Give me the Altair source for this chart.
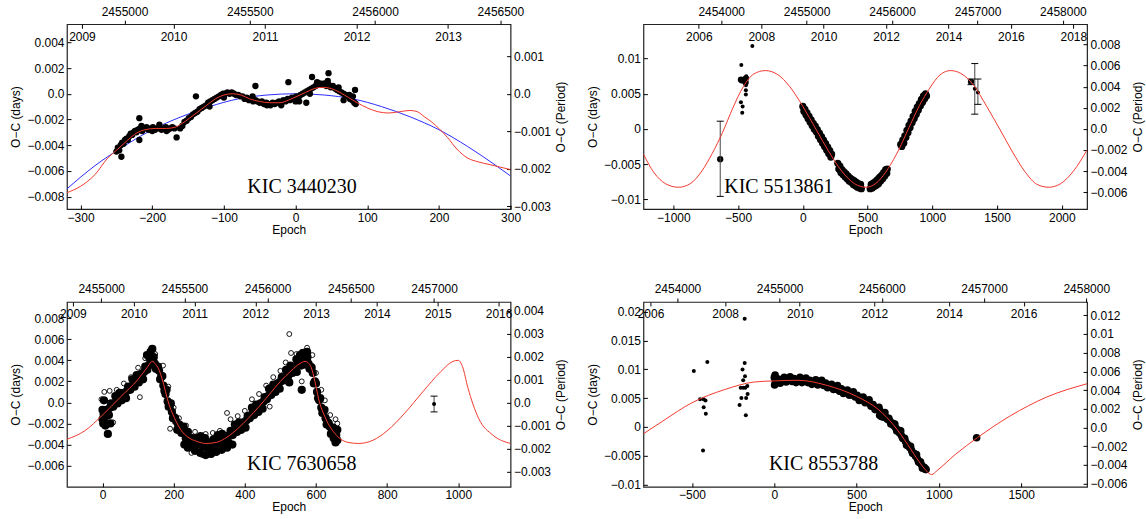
import altair as alt
import pandas as pd

W, H = 444, 185
SANS = "Liberation Sans"
SERIF = "Liberation Serif"
RED = "#f23a30"
BLUE = "#2b2bff"

# ======================= Panel 1 : KIC 3440230 =======================
P1_X_TICKS = [-300, -200, -100, 0, 100, 200, 300]
P1_Y_TICKS = [0.004, 0.002, 0, -0.002, -0.004, -0.006, -0.008]
P1_R_TICKS = [0.001, 0, -0.001, -0.002, -0.003]
P1_JD_TICKS = [2455000, 2455500, 2456000, 2456500]
P1_YR_TICKS = [2009, 2010, 2011, 2012, 2013]
P1_X = [-319, 300]
P1_Y = [-0.00897, 0.00541]
P1_R = [-0.003072, 0.001853]
P1_JD = [2454770.3, 2456540.6]
P1_YR = [2008.836, 2013.683]

P1_DOTS = [(-250, -0.0045), (-248, -0.0042), (-246, -0.0044), (-244, -0.0040), (-242, -0.0038),
           (-240, -0.0039), (-238, -0.0036), (-236, -0.0035), (-234, -0.0036), (-232, -0.0033),
           (-230, -0.0031), (-228, -0.0032), (-226, -0.0030), (-224, -0.0029), (-222, -0.0030),
           (-220, -0.0028), (-217, -0.0027), (-214, -0.0029), (-211, -0.0027), (-208, -0.0026),
           (-205, -0.0028), (-202, -0.0027), (-199, -0.0026), (-196, -0.0028), (-193, -0.0027),
           (-190, -0.0026), (-187, -0.0028), (-184, -0.0027), (-181, -0.0026), (-178, -0.0028),
           (-175, -0.0027), (-172, -0.0026), (-169, -0.0027), (-158, -0.0025), (-155, -0.0022),
           (-152, -0.0021), (-149, -0.0019), (-146, -0.0018), (-143, -0.0016), (-140, -0.0015),
           (-137, -0.0014), (-134, -0.0012), (-131, -0.0011), (-128, -0.0010), (-125, -0.0009),
           (-122, -0.0007), (-119, -0.0006), (-116, -0.0005), (-113, -0.0004), (-110, -0.0003),
           (-107, -0.0002), (-104, -0.0001), (-101, 0.0000), (-98, 0.0000), (-95, 0.0001),
           (-92, 0.0000), (-89, 0.0001), (-86, 0.0000), (-83, -0.0001), (-80, -0.0001),
           (-77, -0.0002), (-74, -0.0002), (-71, -0.0004), (-68, -0.0003), (-65, -0.0005),
           (-62, -0.0004), (-59, -0.0006), (-56, -0.0005), (-53, -0.0006), (-50, -0.0007),
           (-47, -0.0006), (-44, -0.0008), (-41, -0.0007), (-38, -0.0008), (-35, -0.0009),
           (-32, -0.0007), (-29, -0.0008), (-26, -0.0007), (-23, -0.0006), (-20, -0.0007),
           (-17, -0.0005), (-14, -0.0006), (-11, -0.0004), (-8, -0.0005), (-5, -0.0003),
           (-2, -0.0004), (1, -0.0002), (4, -0.0003), (7, -0.0001), (10, 0.0000),
           (13, 0.0001), (16, 0.0002), (19, 0.0003), (22, 0.0004), (25, 0.0005),
           (28, 0.0006), (31, 0.0007), (34, 0.0008), (37, 0.0007), (40, 0.0008),
           (43, 0.0006), (46, 0.0007), (49, 0.0005), (52, 0.0006), (55, 0.0004),
           (58, 0.0003), (61, 0.0002), (64, 0.0001), (67, 0.0000), (70, -0.0001),
           (73, -0.0002), (76, -0.0004), (79, -0.0005), (82, -0.0007), (84, -0.0008),
           (-215, -0.0025), (-200, -0.0029), (-190, -0.0024), (-180, -0.0029), (-120, -0.0010),
           (-100, -0.0003), (-60, -0.0002), (-40, -0.0009), (-20, -0.0009), (0, -0.0006),
           (20, 0.0000), (30, 0.0009), (45, 0.0010), (60, 0.0005), (75, -0.0001), (80, -0.0002),
           (-243, -0.0049), (-218, -0.0036), (-218, -0.0019), (-166, -0.0034), (-161, -0.0027),
           (-139, -0.0002), (-56, 0.0006), (-10, 0.0009), (15, -0.0007), (5, -0.0006),
           (23, 0.0013), (46, 0.0016), (67, -0.0005), (83, 0.0003)]

P1_RED = [(-319, -0.0077), (-300, -0.0072), (-280, -0.0063), (-262, -0.0050), (-250, -0.0044),
          (-240, -0.0039), (-230, -0.0034), (-220, -0.0030), (-210, -0.0028), (-195, -0.0027),
          (-180, -0.0027), (-168, -0.0026), (-158, -0.0023), (-148, -0.0019), (-136, -0.0014),
          (-124, -0.0009), (-112, -0.0004), (-100, -0.0001), (-88, 0.0000), (-76, -0.0001),
          (-64, -0.0004), (-50, -0.0006), (-36, -0.0007), (-22, -0.0007), (-10, -0.0005),
          (2, -0.0002), (14, 0.0001), (26, 0.0004), (38, 0.0005), (50, 0.0004), (62, 0.0001),
          (74, -0.0003), (86, -0.0007), (100, -0.0011), (115, -0.0014), (130, -0.0015),
          (145, -0.0014), (160, -0.0013), (170, -0.0014), (180, -0.0018), (190, -0.0022),
          (200, -0.0027), (212, -0.0034), (225, -0.0043), (240, -0.0050), (255, -0.0053),
          (270, -0.0055), (285, -0.0057), (300, -0.0059)]

P1_BLUE = [(-319, -0.0074), (-280, -0.0056), (-240, -0.0041), (-200, -0.0028), (-160, -0.0018),
           (-120, -0.0010), (-80, -0.0004), (-40, -0.0001), (0, 0.0000), (40, -0.0001),
           (80, -0.0004), (120, -0.0010), (160, -0.0018), (200, -0.0028), (240, -0.0041),
           (280, -0.0056), (300, -0.0064)]

P1_NAME = [(9, -0.00728, "KIC 3440230")]

# ======================= Panel 2 : KIC 5513861 =======================
P2_X_TICKS = [-1000, -500, 0, 500, 1000, 1500, 2000]
P2_Y_TICKS = [0.01, 0.005, 0, -0.005, -0.01]
P2_R_TICKS = [0.008, 0.006, 0.004, 0.002, 0, -0.002, -0.004, -0.006]
P2_JD_TICKS = [2454000, 2455000, 2456000, 2457000, 2458000]
P2_YR_TICKS = [2006, 2008, 2010, 2012, 2014, 2016, 2018]
P2_X = [-1231, 2195]
P2_Y = [-0.0114, 0.0149]
P2_R = [-0.0076, 0.00993]
P2_JD = [2453089.8, 2458282.5]
P2_YR = [2004.224, 2018.44]

P2_DOTS = [(0, 0.0032), (8, 0.0025), (16, 0.0028), (24, 0.0020), (32, 0.0023), (40, 0.0015),
           (48, 0.0018), (56, 0.0010), (64, 0.0013), (72, 0.0005), (80, 0.0008), (88, 0.0000),
           (96, 0.0004), (104, -0.0004), (112, -0.0001), (120, -0.0010), (128, -0.0006),
           (136, -0.0015), (144, -0.0011), (152, -0.0020), (160, -0.0016), (168, -0.0025),
           (176, -0.0021), (184, -0.0030), (192, -0.0026), (200, -0.0035), (208, -0.0031),
           (216, -0.0040), (222, -0.0036),
           (270, -0.0049), (278, -0.0057), (286, -0.0053), (294, -0.0062), (302, -0.0058),
           (310, -0.0065), (318, -0.0061), (326, -0.0068), (334, -0.0064), (342, -0.0071),
           (350, -0.0067), (358, -0.0074), (366, -0.0070), (374, -0.0076), (382, -0.0072),
           (390, -0.0079), (398, -0.0074), (406, -0.0081), (414, -0.0076), (422, -0.0083),
           (430, -0.0078), (438, -0.0084), (446, -0.0079), (452, -0.0085),
           (520, -0.0085), (528, -0.0079), (536, -0.0084), (544, -0.0077), (552, -0.0082),
           (560, -0.0075), (568, -0.0080), (576, -0.0072), (584, -0.0078), (592, -0.0069),
           (600, -0.0074), (608, -0.0066), (616, -0.0071), (624, -0.0062), (632, -0.0067),
           (640, -0.0058), (648, -0.0063), (652, -0.0057),
           (756, -0.0022), (764, -0.0025), (772, -0.0016), (780, -0.0020), (788, -0.0010),
           (796, -0.0012), (804, -0.0002), (812, -0.0005), (820, 0.0005), (828, 0.0002),
           (836, 0.0011), (844, 0.0009), (852, 0.0018), (860, 0.0015), (868, 0.0025),
           (876, 0.0021), (884, 0.0031), (892, 0.0027), (900, 0.0036), (908, 0.0033),
           (916, 0.0042), (924, 0.0038), (932, 0.0047), (940, 0.0043), (948, 0.0050),
           (955, 0.0047)]

P2_BIG = [(-478, 0.0070), (-468, 0.0069), (-446, 0.0070), (-440, 0.0072), (-442, 0.0066),
          (1299, 0.0067), (-638, -0.0043)]

P2_SMALL = [(-475, 0.0091), (-478, 0.0038), (-465, 0.0032), (-468, 0.0023), (-440, 0.0062),
            (-440, 0.0055), (-440, 0.0049), (-437, 0.0075), (-390, 0.0118),
            (1328, 0.0057), (1352, 0.0052)]

P2_ERR = [(-638, -0.0096, 0.0011), (1299, 0.0063, 0.0071), (1328, 0.0021, 0.0093),
          (1352, 0.0035, 0.0071)]

P2_RED = [(-1231, -0.0036), (-1150, -0.0062), (-1060, -0.0078), (-960, -0.0083), (-870, -0.0078),
          (-780, -0.0060), (-700, -0.0035), (-620, -0.0005), (-540, 0.0030), (-460, 0.0060),
          (-380, 0.0078), (-290, 0.0083), (-200, 0.0078), (-100, 0.0060), (0, 0.0032),
          (100, 0.0000), (200, -0.0032), (300, -0.0060), (400, -0.0078), (490, -0.0083),
          (580, -0.0075), (660, -0.0056), (740, -0.0030), (820, 0.0002), (900, 0.0033),
          (980, 0.0058), (1060, 0.0077), (1140, 0.0083), (1220, 0.0079), (1320, 0.0062),
          (1420, 0.0032), (1520, 0.0000), (1620, -0.0033), (1720, -0.0062), (1810, -0.0079),
          (1900, -0.0083), (1990, -0.0078), (2090, -0.0060), (2195, -0.0030)]

P2_NAME = [(-185, -0.00828, "KIC 5513861")]

# ======================= Panel 3 : KIC 7630658 =======================
P3_X_TICKS = [0, 200, 400, 600, 800, 1000]
P3_Y_TICKS = [0.008, 0.006, 0.004, 0.002, 0, -0.002, -0.004, -0.006]
P3_R_TICKS = [0.004, 0.003, 0.002, 0.001, 0, -0.001, -0.002, -0.003]
P3_JD_TICKS = [2455000, 2455500, 2456000, 2456500, 2457000]
P3_YR_TICKS = [2009, 2010, 2011, 2012, 2013, 2014, 2015, 2016]
P3_X = [-100, 1147]
P3_Y = [-0.00802, 0.00955]
P3_R = [-0.00367, 0.00438]
P3_JD = [2454794.2, 2457459.5]
P3_YR = [2008.9015, 2016.197]

P3_DOTS = [(0, -0.0007), (6, -0.0014), (12, -0.0007), (18, -0.0012), (24, -0.0001), (30, -0.0004),
           (36, 0.0006), (42, -0.0001), (48, 0.0009), (54, 0.0002), (60, 0.0009), (66, 0.0004),
           (72, 0.0015), (78, 0.0012), (84, 0.0022), (90, 0.0015), (96, 0.0026), (102, 0.0019),
           (108, 0.0027), (114, 0.0022), (120, 0.0034), (126, 0.0031), (132, 0.0042), (138, 0.0036),
           (144, 0.0043), (150, 0.0032), (156, 0.0034), (162, 0.0022), (168, 0.0025), (174, 0.0011),
           (180, 0.0012), (186, -0.0004), (192, -0.0001), (198, -0.0015), (204, -0.0015),
           (210, -0.0026), (216, -0.0021), (222, -0.0029), (228, -0.0023), (234, -0.0034),
           (240, -0.0028), (246, -0.0038), (252, -0.0034), (258, -0.0042), (264, -0.0034),
           (270, -0.0040), (276, -0.0032), (282, -0.0042), (288, -0.0034), (294, -0.0043),
           (300, -0.0038), (306, -0.0045), (312, -0.0035), (318, -0.0040), (324, -0.0031),
           (330, -0.0039), (336, -0.0030), (342, -0.0038), (348, -0.0032), (354, -0.0038),
           (360, -0.0027), (366, -0.0031), (372, -0.0021), (378, -0.0028), (384, -0.0019),
           (390, -0.0026), (396, -0.0019), (402, -0.0024), (408, -0.0013), (414, -0.0015),
           (420, -0.0005), (426, -0.0012), (432, -0.0002), (438, -0.0009), (444, -0.0001),
           (450, -0.0006), (456, 0.0005), (462, 0.0003), (468, 0.0013), (474, 0.0007),
           (480, 0.0017), (486, 0.0010), (492, 0.0018), (498, 0.0013), (504, 0.0024),
           (510, 0.0021), (516, 0.0031), (522, 0.0025), (528, 0.0035), (534, 0.0028),
           (540, 0.0034), (546, 0.0029), (552, 0.0039), (558, 0.0035), (564, 0.0044),
           (570, 0.0036), (576, 0.0043), (582, 0.0032), (588, 0.0033), (594, 0.0018),
           (600, 0.0018), (606, 0.0004), (612, 0.0004), (618, -0.0010), (624, -0.0007),
           (630, -0.0021), (636, -0.0020), (642, -0.0030), (648, -0.0024), (654, -0.0032),
           (660, -0.0026),
           (15, -0.0030), (22, -0.0020), (560, 0.0012), (525, 0.0019),
           (260, -0.0046), (275, -0.0048), (290, -0.0050), (305, -0.0049), (320, -0.0047),
           (335, -0.0045), (350, -0.0043), (240, -0.0043), (230, -0.0040), (365, -0.0040),
           (125, 0.0045), (135, 0.0048), (140, 0.0051), (555, 0.0045), (565, 0.0047),
           (575, 0.0048), (545, 0.0041), (2, -0.0020), (8, -0.0022), (4, 0.0002), (0, -0.0016),
           (655, -0.0038), (660, -0.0036), (650, -0.0034)]

P3_CORE = [(3, -0.0011), (9, -0.0009), (15, -0.0007), (21, -0.0005), (27, -0.0003), (33, -0.0001),
           (39, 0.0001), (45, 0.0003), (51, 0.0005), (57, 0.0007), (63, 0.0009), (69, 0.0011),
           (75, 0.0013), (81, 0.0015), (87, 0.0017), (93, 0.0019), (99, 0.0022), (105, 0.0024),
           (111, 0.0027), (117, 0.0029), (123, 0.0032), (129, 0.0035), (135, 0.0038), (141, 0.0039),
           (147, 0.0037), (153, 0.0034), (159, 0.0030), (165, 0.0025), (171, 0.0016), (177, 0.0008),
           (183, 0.0001), (189, -0.0004), (195, -0.0009), (201, -0.0014), (207, -0.0018),
           (213, -0.0022), (219, -0.0025), (225, -0.0028), (231, -0.0030), (237, -0.0032),
           (243, -0.0034), (249, -0.0035), (255, -0.0036), (261, -0.0037), (267, -0.0038),
           (273, -0.0038), (279, -0.0039), (285, -0.0039), (291, -0.0039), (297, -0.0039),
           (303, -0.0039), (309, -0.0039), (315, -0.0038), (321, -0.0038), (327, -0.0037),
           (333, -0.0036), (339, -0.0035), (345, -0.0034), (351, -0.0033), (357, -0.0031),
           (363, -0.0030), (369, -0.0028), (375, -0.0027), (381, -0.0025), (387, -0.0023),
           (393, -0.0021), (399, -0.0019), (405, -0.0017), (411, -0.0015), (417, -0.0012),
           (423, -0.0010), (429, -0.0008), (435, -0.0006), (441, -0.0004), (447, -0.0001),
           (453, 0.0001), (459, 0.0004), (465, 0.0006), (471, 0.0008), (477, 0.0011),
           (483, 0.0013), (489, 0.0016), (495, 0.0018), (501, 0.0020), (507, 0.0022),
           (513, 0.0024), (519, 0.0026), (525, 0.0028), (531, 0.0030), (537, 0.0033),
           (543, 0.0034), (549, 0.0035), (555, 0.0037), (561, 0.0038), (567, 0.0039),
           (573, 0.0039), (579, 0.0037), (585, 0.0034), (591, 0.0028), (597, 0.0020),
           (603, 0.0010), (609, 0.0002), (615, -0.0005), (621, -0.0009), (627, -0.0015),
           (633, -0.0019), (639, -0.0023), (645, -0.0026), (651, -0.0029), (657, -0.0031)]

P3_SMALL = [(932, -0.00016)]

P3_OPEN = [(-3, 0.0003), (5, 0.0010), (10, -0.0018), (20, 0.0011), (40, 0.0012), (60, 0.0018),
           (80, 0.0024), (100, 0.0033), (120, 0.0042), (135, 0.0050), (148, 0.0046), (170, 0.0035),
           (185, 0.0015), (200, -0.0005), (215, -0.0015), (235, -0.0022), (260, -0.0028),
           (290, -0.0030), (310, -0.0029), (330, -0.0027), (350, -0.0010), (360, -0.0016),
           (380, -0.0013), (400, -0.0008), (420, 0.0003), (440, 0.0008), (460, 0.0016),
           (480, 0.0024), (500, 0.0030), (515, 0.0038), (525, 0.0065), (530, 0.0047),
           (545, 0.0046), (560, 0.0048), (575, 0.0052), (590, 0.0045), (600, 0.0028),
           (615, 0.0012), (625, 0.0002), (640, -0.0012), (655, -0.0016), (660, -0.0020),
           (250, -0.0048), (280, -0.0050), (320, -0.0048), (190, -0.0025), (105, 0.0005),
           (30, -0.0019), (470, -0.0004), (560, 0.0020)]

P3_ERR = [(932, -0.0009, 0.0006)]

P3_RED = [(-100, -0.0035), (-50, -0.0027), (0, -0.0012), (50, 0.0005), (100, 0.0022),
          (125, 0.0033), (140, 0.0039), (150, 0.0036), (160, 0.0030), (167, 0.0023),
          (187, -0.0002), (207, -0.0018), (220, -0.0026), (240, -0.0033), (265, -0.0037),
          (290, -0.0039), (320, -0.0038), (350, -0.0033), (380, -0.0025), (410, -0.0015),
          (440, -0.0004), (470, 0.0008), (500, 0.0020), (530, 0.0030), (555, 0.0037),
          (570, 0.0039), (580, 0.0037), (587, 0.0033), (597, 0.0020), (607, 0.0004),
          (627, -0.0015), (657, -0.0031), (690, -0.0038), (720, -0.0039), (760, -0.0036),
          (800, -0.0027), (850, -0.0010), (900, 0.0010), (950, 0.0029), (985, 0.0039),
          (1000, 0.0040), (1012, 0.0034), (1027, 0.0014), (1057, -0.0015), (1097, -0.0031),
          (1147, -0.0039)]

P3_NAME = [(560, -0.0059, "KIC 7630658")]

# ======================= Panel 4 : KIC 8553788 =======================
P4_X_TICKS = [-500, 0, 500, 1000, 1500]
P4_Y_TICKS = [0.02, 0.015, 0.01, 0.005, 0, -0.005, -0.01]
P4_R_TICKS = [0.012, 0.01, 0.008, 0.006, 0.004, 0.002, 0, -0.002, -0.004, -0.006]
P4_JD_TICKS = [2454000, 2455000, 2456000, 2457000, 2458000]
P4_YR_TICKS = [2006, 2008, 2010, 2012, 2014, 2016]
P4_X = [-795, 1900]
P4_Y = [-0.01043, 0.02173]
P4_R = [-0.00633, 0.01342]
P4_JD = [2453667, 2458008]
P4_YR = [2005.81, 2017.70]

P4_DOTS = [(0, 0.0086), (12, 0.0078), (24, 0.0083), (36, 0.0076), (48, 0.0082), (60, 0.0086),
           (72, 0.0078), (84, 0.0083), (96, 0.0087), (108, 0.0079), (120, 0.0084), (132, 0.0077),
           (144, 0.0082), (156, 0.0086), (168, 0.0077), (180, 0.0082), (192, 0.0085), (204, 0.0077),
           (216, 0.0081), (228, 0.0074), (240, 0.0078), (252, 0.0082), (264, 0.0073), (276, 0.0077),
           (288, 0.0081), (300, 0.0072), (312, 0.0076), (324, 0.0068), (336, 0.0071), (348, 0.0074),
           (360, 0.0065), (372, 0.0069), (384, 0.0072), (396, 0.0062), (408, 0.0066), (420, 0.0058),
           (432, 0.0062), (444, 0.0064), (456, 0.0055), (468, 0.0059), (480, 0.0061), (492, 0.0052),
           (504, 0.0055), (516, 0.0046), (528, 0.0050), (540, 0.0052), (552, 0.0042), (564, 0.0045),
           (576, 0.0047), (588, 0.0036), (600, 0.0039), (612, 0.0030), (624, 0.0033), (636, 0.0034),
           (648, 0.0023), (660, 0.0024), (672, 0.0025), (684, 0.0014), (696, 0.0015), (708, 0.0005),
           (720, 0.0006), (732, 0.0005), (744, -0.0007), (756, -0.0006), (768, -0.0007),
           (780, -0.0020), (792, -0.0020), (804, -0.0032), (816, -0.0033), (828, -0.0034),
           (840, -0.0046), (852, -0.0047), (864, -0.0048), (876, -0.0061), (888, -0.0061),
           (900, -0.0072), (912, -0.0071), (922, -0.0074), (2, 0.0073), (5, 0.0090),
           (1229, -0.0019), (640, 0.0020), (650, 0.0018), (655, 0.0022), (660, 0.0017),
           (645, 0.0024)]

P4_CORE = [(6, 0.0080), (18, 0.0080), (30, 0.0080), (42, 0.0080), (54, 0.0081), (66, 0.0081),
           (78, 0.0081), (90, 0.0081), (102, 0.0081), (114, 0.0081), (126, 0.0081), (138, 0.0081),
           (150, 0.0081), (162, 0.0080), (174, 0.0080), (186, 0.0080), (198, 0.0079), (210, 0.0079),
           (222, 0.0078), (234, 0.0077), (246, 0.0077), (258, 0.0076), (270, 0.0075), (282, 0.0075),
           (294, 0.0074), (306, 0.0073), (318, 0.0072), (330, 0.0071), (342, 0.0070), (354, 0.0068),
           (366, 0.0067), (378, 0.0066), (390, 0.0065), (402, 0.0064), (414, 0.0062), (426, 0.0061),
           (438, 0.0060), (450, 0.0059), (462, 0.0057), (474, 0.0056), (486, 0.0054), (498, 0.0053),
           (510, 0.0051), (522, 0.0049), (534, 0.0048), (546, 0.0046), (558, 0.0044), (570, 0.0042),
           (582, 0.0040), (594, 0.0037), (606, 0.0035), (618, 0.0033), (630, 0.0031), (642, 0.0028),
           (654, 0.0025), (666, 0.0021), (678, 0.0017), (690, 0.0013), (702, 0.0010), (714, 0.0006),
           (726, 0.0002), (738, -0.0002), (750, -0.0006), (762, -0.0011), (774, -0.0016),
           (786, -0.0021), (798, -0.0026), (810, -0.0031), (822, -0.0036), (834, -0.0041),
           (846, -0.0046), (858, -0.0051), (870, -0.0056), (882, -0.0062), (894, -0.0066),
           (906, -0.0070), (918, -0.0074)]

P4_SMALL = [(-489, 0.0097), (-451, 0.0048), (-429, 0.0048), (-429, 0.0034), (-416, 0.0023),
            (-407, 0.0113), (-433, -0.0041), (-418, 0.0046), (-211, 0.0038), (-200, 0.0050),
            (-193, 0.0100), (-189, 0.0081), (-180, 0.0188), (-180, 0.0111), (-178, 0.0088),
            (-176, 0.0068), (-173, 0.0020), (-171, 0.0050), (-162, 0.0057), (-164, 0.0071),
            (-189, 0.0068), (-204, 0.0068)]

P4_RED = [(-795, -0.0012), (-678, 0.0010), (-500, 0.0042), (-300, 0.0065), (-122, 0.0078),
          (0, 0.0080), (144, 0.0081), (322, 0.0072), (500, 0.0053), (633, 0.0030),
          (722, 0.0004), (811, -0.0031), (878, -0.0060), (922, -0.0076), (956, -0.0083),
          (989, -0.0076), (1100, -0.0048), (1233, -0.0019), (1433, 0.0019), (1656, 0.0052),
          (1900, 0.0075)]

P4_NAME = [(299, -0.00655, "KIC 8553788")]


# ======================= helpers =======================
def lab_expr(kind):
    m = "'\u2212'"
    if kind == "f3z":
        return "datum.value == 0 ? '0.0' : replace(format(datum.value, '.3f'), '-', " + m + ")"
    if kind == "gz":
        return "datum.value == 0 ? '0.0' : replace(format(datum.value, '~g'), '-', " + m + ")"
    if kind == "g":
        return "replace(format(datum.value, '~g'), '-', " + m + ")"
    return "replace(format(datum.value, 'd'), '-', " + m + ")"


def sc(dom):
    return alt.Scale(domain=dom, nice=False, zero=False)


def panel(P):
    xs, ys = sc(P["x"]), sc(P["y"])
    xa = alt.Axis(orient="bottom", values=P["xt"], offset=-4, tickSize=4, labelPadding=3,
                  title="Epoch", titlePadding=1, labelExpr=lab_expr("d"))
    ya = alt.Axis(orient="left", values=P["yt"], offset=-4, tickSize=4, labelPadding=3,
                  title="O\u2212C (days)", titlePadding=4, labelExpr=lab_expr(P["yk"]))
    X = alt.X("e:Q", scale=xs, axis=None)
    Y = alt.Y("v:Q", scale=ys, axis=None)

    layers = []
    frame = pd.DataFrame({"e": [P["xt"][0]], "v": [P["yt"][0]]})
    layers.append(alt.Chart(frame).mark_point(opacity=0).encode(
        x=alt.X("e:Q", scale=xs, axis=xa), y=alt.Y("v:Q", scale=ys, axis=ya)))

    for curve in P.get("blue", []):
        df = pd.DataFrame(curve, columns=["e", "v"])
        layers.append(alt.Chart(df).mark_line(color=BLUE, strokeWidth=1, clip=True,
                                              interpolate="monotone").encode(x=X, y=Y))
    if "open" in P:
        df = pd.DataFrame(P["open"], columns=["e", "v"])
        layers.append(alt.Chart(df).mark_point(shape="circle", filled=False, color="black",
                                               size=24, strokeWidth=0.9, opacity=1)
                      .encode(x=X, y=Y))
    for key in ("dots", "core"):
        if key in P:
            df = pd.DataFrame(P[key], columns=["e", "v"])
            layers.append(alt.Chart(df).mark_circle(color="black", size=P.get("dsize", 30),
                                                    opacity=1).encode(x=X, y=Y))
    if "big" in P:
        df = pd.DataFrame(P["big"], columns=["e", "v"])
        layers.append(alt.Chart(df).mark_circle(color="black", size=40, opacity=1).encode(x=X, y=Y))
    if "err" in P:
        df = pd.DataFrame(P["err"], columns=["e", "lo", "hi"])
        layers.append(alt.Chart(df).mark_rule(color="#444444", strokeWidth=1)
                      .encode(x=X, y=alt.Y("lo:Q", scale=ys, axis=None), y2="hi:Q"))
        caps = pd.DataFrame([(r[0], r[1]) for r in P["err"]] + [(r[0], r[2]) for r in P["err"]],
                            columns=["e", "v"])
        layers.append(alt.Chart(caps).mark_tick(orient="horizontal", color="black", size=7,
                                                thickness=1, opacity=1).encode(x=X, y=Y))
    if "small" in P:
        df = pd.DataFrame(P["small"], columns=["e", "v"])
        layers.append(alt.Chart(df).mark_circle(color="black", size=16, opacity=1).encode(x=X, y=Y))
    for curve in P.get("red", []):
        df = pd.DataFrame(curve, columns=["e", "v"])
        layers.append(alt.Chart(df).mark_line(color=RED, strokeWidth=1, clip=True,
                                              interpolate="monotone").encode(x=X, y=Y))
    dfn = pd.DataFrame(P["name"], columns=["e", "v", "t"])
    layers.append(alt.Chart(dfn).mark_text(font=SERIF, fontSize=20, color="black", align="center",
                                           baseline="middle").encode(x=X, y=Y, text="t:N"))

    jd_df = pd.DataFrame({"jd": P["jdt"], "v": [P["yt"][0]] * len(P["jdt"])})
    layers.append(alt.Chart(jd_df).mark_point(opacity=0).encode(
        x=alt.X("jd:Q", scale=sc(P["jd"]),
                axis=alt.Axis(orient="top", values=P["jdt"], tickSize=4, labelPadding=2,
                              title=None, labelExpr=lab_expr("d"))),
        y=Y))
    yr_df = pd.DataFrame({"yr": P["yrt"], "v": [P["yt"][0]] * len(P["yrt"])})
    layers.append(alt.Chart(yr_df).mark_point(opacity=0).encode(
        x=alt.X("yr:Q", scale=sc(P["yr"]),
                axis=alt.Axis(orient="bottom", values=P["yrt"], offset=-H, tickSize=4,
                              labelPadding=3, title=None, labelExpr=lab_expr("d"))),
        y=Y))
    rt_df = pd.DataFrame({"e": [P["xt"][0]] * len(P["rt"]), "p": P["rt"]})
    layers.append(alt.Chart(rt_df).mark_point(opacity=0).encode(
        x=X,
        y=alt.Y("p:Q", scale=sc(P["r"]),
                axis=alt.Axis(orient="right", values=P["rt"], offset=-4, tickSize=4,
                              labelPadding=3, title="O\u2212C (Period)", titlePadding=5,
                              titleAngle=270, titleBaseline="top", labelExpr=lab_expr(P["rk"])))))
    return alt.layer(*layers).resolve_scale(x="independent", y="independent") \
        .properties(width=W, height=H)


p1 = panel(dict(x=P1_X, xt=P1_X_TICKS, y=P1_Y, yt=P1_Y_TICKS, yk="f3z", r=P1_R, rt=P1_R_TICKS,
                rk="f3z", jd=P1_JD, jdt=P1_JD_TICKS, yr=P1_YR, yrt=P1_YR_TICKS, dots=P1_DOTS,
                dsize=40, red=[P1_RED], blue=[P1_BLUE], name=P1_NAME))
p2 = panel(dict(x=P2_X, xt=P2_X_TICKS, y=P2_Y, yt=P2_Y_TICKS, yk="g", r=P2_R, rt=P2_R_TICKS,
                rk="f3z", jd=P2_JD, jdt=P2_JD_TICKS, yr=P2_YR, yrt=P2_YR_TICKS, dots=P2_DOTS,
                dsize=52, big=P2_BIG, small=P2_SMALL, err=P2_ERR, red=[P2_RED], name=P2_NAME))
p3 = panel(dict(x=P3_X, xt=P3_X_TICKS, y=P3_Y, yt=P3_Y_TICKS, yk="f3z", r=P3_R, rt=P3_R_TICKS,
                rk="f3z", jd=P3_JD, jdt=P3_JD_TICKS, yr=P3_YR, yrt=P3_YR_TICKS, dots=P3_DOTS,
                core=P3_CORE, dsize=68, small=P3_SMALL, open=P3_OPEN, err=P3_ERR, red=[P3_RED],
                name=P3_NAME))
p4 = panel(dict(x=P4_X, xt=P4_X_TICKS, y=P4_Y, yt=P4_Y_TICKS, yk="g", r=P4_R, rt=P4_R_TICKS,
                rk="gz", jd=P4_JD, jdt=P4_JD_TICKS, yr=P4_YR, yrt=P4_YR_TICKS, dots=P4_DOTS,
                core=P4_CORE, dsize=58, small=P4_SMALL, red=[P4_RED], name=P4_NAME))

chart = alt.concat(p1, p2, p3, p4, columns=2, spacing={"row": 93, "column": 133},
                   bounds="flush").properties(
    padding={"left": 9, "top": 4, "right": 2, "bottom": 2},
    background="white",
).configure_view(stroke="#222222", strokeWidth=1.2).configure_axis(
    grid=False, domain=False, labelFont=SANS, labelFontSize=12, labelColor="black",
    tickColor="black", tickWidth=1, titleFont=SANS, titleFontSize=12, titleFontWeight="normal",
    titleColor="black", labelFlush=False, labelOverlap=False,
)

chart.save("out.html", embed_options={"renderer": "svg", "actions": False})
